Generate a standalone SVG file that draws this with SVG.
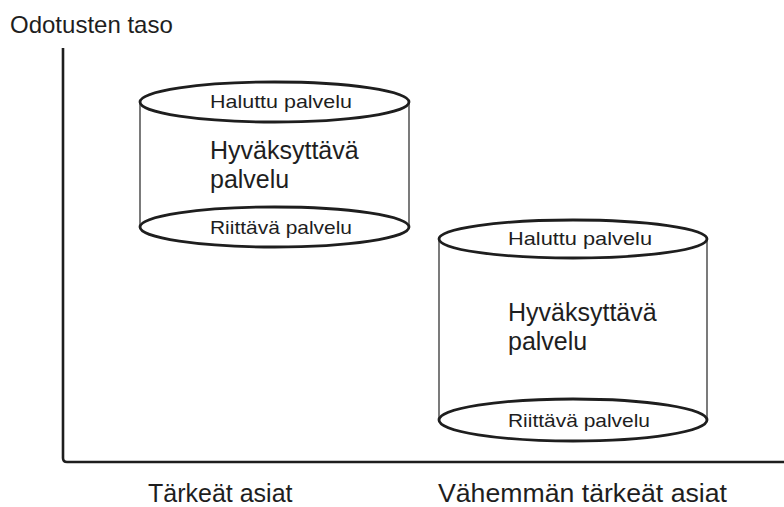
<svg xmlns="http://www.w3.org/2000/svg" width="784" height="507" viewBox="0 0 784 507">
  <style>
    .ln { fill: none; stroke: #1e1e1e; stroke-width: 2.6; }
    .side { fill: none; stroke: #333; stroke-width: 1.3; }
    .cap { fill: #fff; stroke: #1e1e1e; stroke-width: 2.8; }
    text { font-family: "Liberation Sans", Arial, sans-serif; fill: #1e1e1e; }
    .sm { font-size: 19px; }
    .md { font-size: 25px; }
    .ax { font-size: 25px; }
  </style>
  <rect width="784" height="507" fill="#fff"/>

  <!-- axes -->
  <g id="axes">
    <path class="ln" d="M63,48 V458 Q63,462 67,462 H784"/>
    <text x="10" y="33" style="font-size:24px">Odotusten taso</text>
    <text x="148" y="502" class="ax">Tärkeät asiat</text>
    <text x="438" y="502" class="ax" textLength="289" lengthAdjust="spacingAndGlyphs">Vähemmän tärkeät asiat</text>
  </g>

  <!-- cylinder: important matters -->
  <g id="cyl1">
    <line class="side" x1="140" y1="102" x2="140" y2="227"/>
    <line class="side" x1="409" y1="102" x2="409" y2="227"/>
    <ellipse class="cap" cx="274.5" cy="102" rx="134.5" ry="20"/>
    <ellipse class="cap" cx="274.5" cy="227" rx="134.5" ry="20"/>
    <text x="210" y="108" class="sm" textLength="142" lengthAdjust="spacingAndGlyphs">Haluttu palvelu</text>
    <text x="210" y="159" class="md">Hyväksyttävä</text>
    <text x="210" y="188" class="md">palvelu</text>
    <text x="210" y="234" class="sm" textLength="142" lengthAdjust="spacingAndGlyphs">Riittävä palvelu</text>
  </g>

  <!-- cylinder: less important matters -->
  <g id="cyl2">
    <line class="side" x1="439" y1="239" x2="439" y2="420"/>
    <line class="side" x1="707" y1="239" x2="707" y2="420"/>
    <ellipse class="cap" cx="573" cy="239" rx="134" ry="19"/>
    <ellipse class="cap" cx="573" cy="420" rx="134" ry="21"/>
    <text x="508" y="245" class="sm" textLength="144" lengthAdjust="spacingAndGlyphs">Haluttu palvelu</text>
    <text x="508" y="321" class="md">Hyväksyttävä</text>
    <text x="508" y="350" class="md">palvelu</text>
    <text x="508" y="427" class="sm" textLength="142" lengthAdjust="spacingAndGlyphs">Riittävä palvelu</text>
  </g>
</svg>
